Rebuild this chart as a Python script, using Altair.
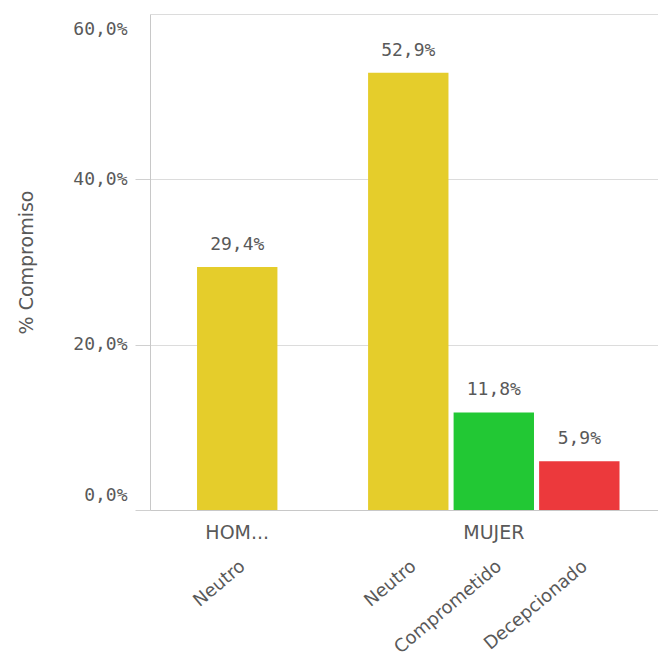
import altair as alt
import pandas as pd

groups = ["HOMBRE", "MUJER", "MUJER", "MUJER"]
categories = ["Neutro", "Neutro", "Comprometido", "Decepcionado"]
values = [29.4, 52.9, 11.8, 5.9]

group_names = ["HOMBRE", "MUJER"]
group_labels = ["HOM...", "MUJER"]
group_anchor_cat = ["Neutro", "Comprometido"]

cat_domain = ["Neutro", "Comprometido", "Decepcionado"]
cat_colors = ["#e5cd2b", "#22c834", "#ec393c"]

keys = [g + "|" + c for g, c in zip(groups, categories)]
key_domain = [keys[0], "_gap", keys[1], keys[2], keys[3]]

df = pd.DataFrame({"key": keys, "group": groups, "cat": categories, "val": values})
gdf = pd.DataFrame({
    "key": [g + "|" + c for g, c in zip(group_names, group_anchor_cat)],
    "label": group_labels,
})

SANS = "DejaVu Sans"
MONO = "DejaVu Sans Mono"
TXT = "#595959"

xscale = alt.Scale(domain=key_domain, paddingInner=0.06, paddingOuter=0.5, align=0.55)

x_enc = alt.X(
    "key:N",
    scale=xscale,
    title=None,
    axis=alt.Axis(
        labelExpr="split(datum.value, '|')[1] || ''",
        labelAngle=320,
        labelAlign="right",
        labelBaseline="top",
        labelPadding=47,
        labelFont=SANS,
        labelFontSize=18,
        labelColor=TXT,
        labelOverlap=False,
        labelBound=False,
        labelLimit=300,
        ticks=False,
        grid=False,
        domainColor="#c8c8c8",
    ),
)

bars = alt.Chart(df).mark_bar().encode(
    x=x_enc,
    y=alt.Y(
        "val:Q",
        scale=alt.Scale(domain=[0, 60]),
        title="% Compromiso",
        axis=alt.Axis(
            values=[0, 20, 40, 60],
            labelExpr="replace(format(datum.value, '.1f'), '.', ',') + '%'",
            labelFont=MONO,
            labelFontSize=18,
            labelColor=TXT,
            labelPadding=8,
            labelFlush=True,
            labelFlushOffset=-6,
            tickSize=15,
            tickColor={"condition": {"test": "datum.value == 60", "value": "transparent"}, "value": "#d0d0d0"},
            domainColor="#c8c8c8",
            gridColor="#dcdcdc",
            titleFont=SANS,
            titleFontSize=19,
            titleFontWeight="normal",
            titleColor=TXT,
            titleX=-124,
            titleY=248,
            titleAlign="center",
            titleBaseline="middle",
            titleAngle=270,
        ),
    ),
    color=alt.Color("cat:N", scale=alt.Scale(domain=cat_domain, range=cat_colors), legend=None),
)

labels = alt.Chart(df).transform_calculate(
    label="replace(format(datum.val, '.1f'), '.', ',') + '%'"
).mark_text(
    baseline="alphabetic", dy=-17, font=MONO, fontSize=18, color=TXT
).encode(
    x=alt.X("key:N", scale=xscale),
    y=alt.Y("val:Q"),
    text="label:N",
)

glabels = alt.Chart(gdf).mark_text(
    baseline="middle", align="center", font=SANS, fontSize=19, color=TXT
).encode(
    x=alt.X("key:N", scale=xscale),
    y=alt.value(519),
    text="label:N",
)

chart = alt.layer(bars, labels, glabels).properties(
    width=508,
    height=496,
    padding={"left": 142, "top": 6, "right": 0, "bottom": 148},
    autosize="none",
).configure_view(stroke=None)

chart.save("out.html", embed_options={"renderer": "svg", "actions": False})
